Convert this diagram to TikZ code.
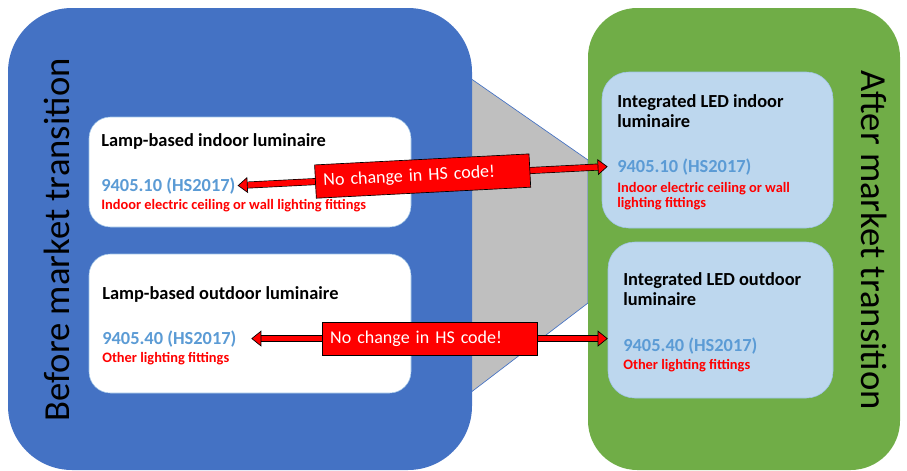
\documentclass[tikz,border=0pt]{standalone}
\usepackage{fontspec}
\setmainfont{Carlito}
\usetikzlibrary{arrows.meta}

\definecolor{beforeblue}{HTML}{4472C4}
\definecolor{aftergreen}{HTML}{70AD47}
\definecolor{ledblue}{HTML}{BDD7EE}
\definecolor{codeblue}{HTML}{5B9BD5}
\definecolor{shadegray}{HTML}{BFBFBF}
\definecolor{edgeblue}{HTML}{9DC3E6}

\tikzset{
  phase/.style={rounded corners=48pt, inner sep=0pt},
  lampbox/.style={fill=white, draw=edgeblue, rounded corners=16pt, inner sep=0pt},
  ledbox/.style={fill=ledblue, draw=edgeblue, rounded corners=20pt, inner sep=0pt},
  phaselabel/.style={font=\fontsize{27.5}{32}\selectfont},
  title/.style={anchor=base west, inner sep=0pt, align=left, font=\bfseries\fontsize{13.8}{15}\selectfont},
  code/.style={anchor=base west, inner sep=0pt, text=codeblue, font=\bfseries\fontsize{13.8}{15}\selectfont},
  fitting/.style={anchor=base west, inner sep=0pt, align=left, text=red, font=\bfseries\fontsize{10.8}{11.25}\selectfont},
  hsarrow/.style={draw=black, line width=0.5pt, double=red, double distance=4.2pt,
    arrows={Triangle[length=7.5pt,width=12pt,fill=red,color=black,line width=0.5pt]-Triangle[length=7.5pt,width=12pt,fill=red,color=black,line width=0.5pt]}},
  nochange/.style={fill=red, draw=black, line width=0.5pt, text=white, text width=149pt, align=left,
    inner xsep=6pt, minimum height=25pt, font=\fontsize{13.5}{15}\selectfont, sloped}
}

\begin{document}
\begin{tikzpicture}[x=0.75pt, y=-0.75pt]
\useasboundingbox (0,0) rectangle (907,471);

% grey band between the two phases
\filldraw[fill=shadegray, draw=beforeblue, line width=0.5pt] (470,78) -- (588,160) -- (588,303) -- (470,393) -- cycle;

\node[phase, fill=beforeblue, minimum width=348pt, minimum height=346.5pt] (before) at (240,239) {};
\node[phase, rounded corners=37pt, fill=aftergreen, minimum width=234pt, minimum height=346.5pt] (after) at (744,239) {};

\node[phaselabel, rotate=90] (beforelabel) at (57,240) {Before market transition};
\node[phaselabel, rotate=-90] (afterlabel) at (874,240) {After market transition};

\node[lampbox, minimum width=241.5pt, minimum height=82.5pt] (lamp1) at (250,172) {};
\node[lampbox, minimum width=241.5pt, minimum height=104.25pt] (lamp2) at (250,323.5) {};
\node[ledbox, minimum width=173.25pt, minimum height=117pt] (led1) at (717.5,150) {};
\node[ledbox, minimum width=168.75pt, minimum height=117pt] (led2) at (720.5,320) {};

% texts in the boxes
\node[title] (ltitle1) at (101,146) {Lamp-based indoor luminaire};
\node[code] (lcode1) at (101,191) {9405.10 (HS2017)};
\node[fitting] (lfit1) at (101,209) {Indoor electric ceiling or wall lighting fittings};
\node[title] (ltitle2) at (102,299) {Lamp-based outdoor luminaire};
\node[code] (lcode2) at (102,344) {9405.40 (HS2017)};
\node[fitting] (lfit2) at (102,362) {Other lighting fittings};

% two-line nodes sit on their last baseline
\node[title] (rtitle1) at (617,127) {Integrated LED indoor\\luminaire};
\node[code] (rcode1) at (617,172) {9405.10 (HS2017)};
\node[fitting] (rfit1) at (617,207) {Indoor electric ceiling or wall\\lighting fittings};
\node[title] (rtitle2) at (623,305) {Integrated LED outdoor\\luminaire};
\node[code] (rcode2) at (623,351) {9405.40 (HS2017)};
\node[fitting] (rfit2) at (623,369) {Other lighting fittings};

% same code arrows
\draw[hsarrow] ([xshift=1.5pt]lcode1.east) -- ([xshift=-7pt]rcode1.west)
  node[nochange, midway] (same1) {No change in HS code!};
\draw[hsarrow] ([xshift=11pt]lcode2.east) -- (lcode2.east -| led2.west)
  node[nochange, midway] (same2) {No change in HS code!};

\end{tikzpicture}
\end{document}
